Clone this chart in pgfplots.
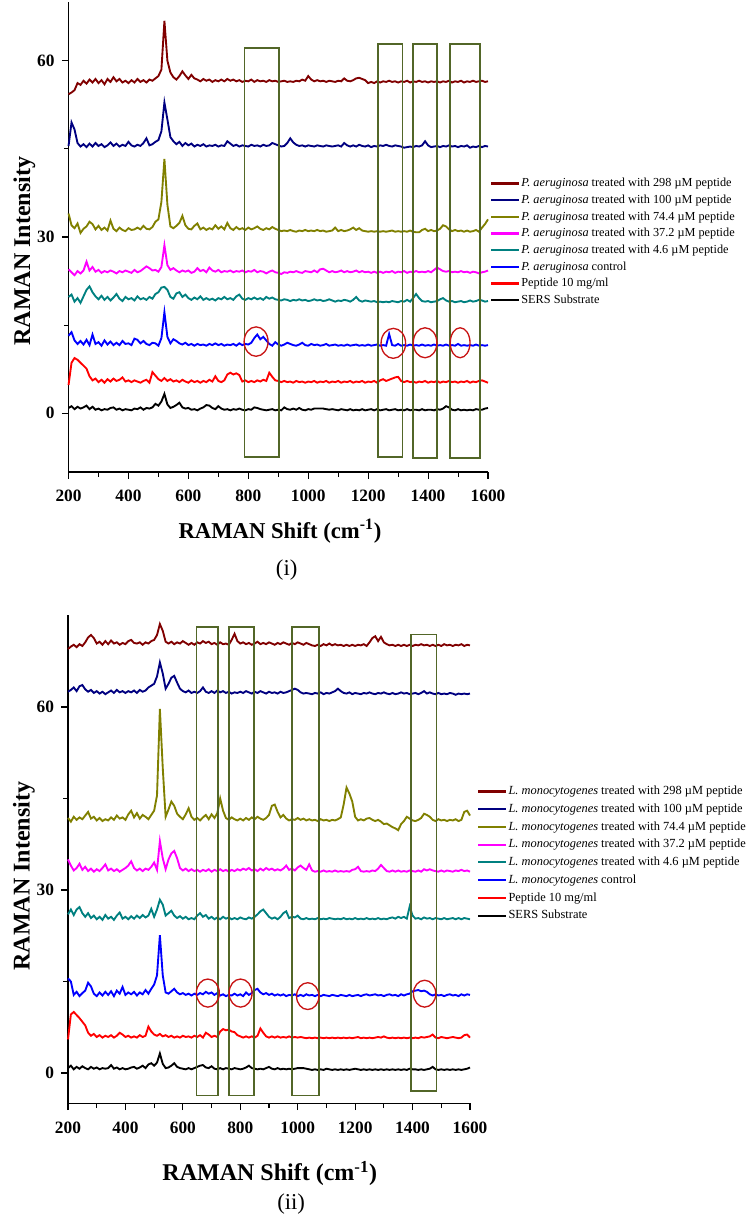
\documentclass[border=0pt]{standalone}
\usepackage{pgfplots}
\usepackage{pgfplotstable}
\pgfplotsset{compat=1.18}
\usepackage{fontspec}
\setmainfont{Liberation Serif}
\definecolor{cA}{RGB}{128,0,0}
\definecolor{cB}{RGB}{0,0,128}
\definecolor{cC}{RGB}{128,128,0}
\definecolor{cD}{RGB}{255,0,255}
\definecolor{cE}{RGB}{0,128,128}
\definecolor{cF}{RGB}{0,0,255}
\definecolor{cG}{RGB}{255,0,0}
\definecolor{cH}{RGB}{0,0,0}
\definecolor{boxc}{RGB}{82,102,40}
\definecolor{circ}{RGB}{200,20,20}

% columns: x, SERS, peptide, control, 4.6, 37.2, 74.4, 100, 298
\pgfplotstableread{
x a b c d e f g h
200 0.9 4.8 13.2 19.8 24.5 34.0 45.5 54.3
210 1.2 8.6 13.8 20.2 24.0 32.0 49.5 54.6
220 0.7 9.4 12.4 19.0 23.5 31.5 48.3 55.0
230 1.1 9.1 11.8 19.6 24.2 32.3 46.0 56.2
240 0.8 8.6 12.3 18.8 23.8 30.7 45.4 55.9
250 1.0 8.1 11.7 19.9 24.3 31.4 45.8 56.6
260 1.3 7.6 12.5 21.0 25.8 31.8 45.3 56.1
270 0.7 6.3 11.6 21.6 24.3 32.6 45.9 56.8
280 1.1 5.6 13.4 20.6 24.9 32.2 45.4 56.3
290 0.6 5.9 11.8 19.9 24.1 31.3 46.0 56.9
300 0.8 5.3 12.1 19.4 24.4 31.9 45.5 56.2
310 0.5 5.7 11.5 20.0 23.9 31.2 45.8 56.7
320 0.7 5.2 12.4 19.3 24.2 31.6 45.3 56.0
330 0.6 5.8 11.7 19.8 24.0 31.1 45.6 56.9
340 0.9 5.4 12.2 19.2 24.3 32.8 46.1 56.4
350 1.0 5.9 11.6 19.7 24.1 31.4 45.5 57.2
360 0.6 5.5 12.0 20.3 23.8 31.0 45.9 56.5
370 0.8 5.7 11.6 19.5 24.2 31.6 45.4 56.9
380 0.5 6.1 12.3 19.1 24.0 31.2 45.7 56.3
390 0.7 5.4 11.8 19.8 24.3 31.0 45.5 56.6
400 0.6 5.6 11.9 19.4 24.1 31.5 46.2 56.2
410 0.5 5.3 11.6 19.6 23.9 31.2 45.6 56.7
420 0.8 5.6 12.7 19.2 24.4 31.3 45.4 56.3
430 0.7 5.4 12.5 19.9 24.0 31.6 45.7 56.9
440 1.0 5.2 11.9 19.4 24.2 31.3 45.5 56.4
450 0.6 5.5 12.3 19.6 24.6 31.9 46.0 56.7
460 0.9 5.7 11.8 19.3 25.0 31.4 46.8 56.3
470 0.8 5.2 11.6 19.8 24.7 31.3 45.6 56.8
480 1.0 7.0 12.0 19.5 24.3 31.7 45.8 56.6
490 1.6 6.4 11.9 20.3 24.4 32.6 46.2 57.0
500 1.3 5.8 11.5 20.6 24.1 33.0 46.5 57.4
510 2.0 5.5 12.8 21.4 24.9 36.0 48.0 58.5
520 3.3 6.0 17.2 21.5 28.6 43.3 52.9 66.8
530 1.5 5.5 13.0 21.0 25.2 35.5 50.0 60.0
540 0.9 5.8 11.9 19.8 24.4 31.8 47.0 58.0
550 1.1 5.4 12.6 19.5 24.7 31.5 46.3 57.2
560 1.4 5.6 12.3 20.4 24.3 31.9 45.8 56.8
570 1.8 5.3 11.9 20.6 24.0 32.4 46.2 57.4
580 1.0 5.7 11.7 19.8 24.3 33.6 45.5 58.2
590 0.8 5.4 12.0 20.2 24.1 32.0 46.0 57.5
600 0.9 5.2 11.6 19.6 24.3 31.4 45.6 56.9
610 0.6 5.6 11.8 19.3 23.9 31.3 45.9 57.6
620 0.7 5.3 11.5 19.7 24.1 31.9 45.4 57.0
630 0.5 5.5 11.8 19.4 24.7 32.3 45.7 56.8
640 0.8 5.2 11.6 19.9 24.2 31.3 45.5 56.5
650 1.0 5.5 11.7 19.3 24.4 31.6 45.8 56.9
660 1.4 5.3 11.5 19.6 24.0 31.2 45.4 56.6
670 1.3 5.7 11.8 19.3 24.8 31.5 45.6 56.8
680 0.9 5.4 11.6 19.5 24.3 31.3 45.5 56.4
690 0.7 6.3 11.9 19.2 24.1 32.0 45.7 56.7
700 1.2 5.5 11.6 19.6 24.4 31.4 45.4 56.5
710 0.8 5.3 11.8 19.4 24.0 31.8 45.6 56.8
720 0.6 5.6 11.5 19.8 24.2 31.3 45.5 56.5
730 0.7 6.6 11.7 19.4 24.1 32.4 46.3 56.9
740 0.5 6.9 11.6 19.6 24.3 31.5 45.9 56.6
750 0.7 6.6 11.8 19.3 24.0 31.2 45.5 56.8
760 0.6 6.8 11.5 19.9 24.2 31.7 45.7 56.5
770 0.8 6.5 11.9 20.2 24.1 31.3 45.4 56.7
780 0.6 5.4 11.6 19.5 24.3 31.5 45.6 56.4
790 0.5 5.6 11.8 19.3 24.0 31.2 45.5 56.6
800 0.7 5.3 11.7 19.6 24.2 31.6 45.4 56.5
810 0.6 5.5 12.0 19.4 24.1 31.3 45.7 56.8
820 1.0 5.3 12.8 19.7 24.4 31.5 45.5 56.4
830 0.9 5.6 13.4 19.4 24.0 31.8 45.6 56.7
840 0.7 5.4 12.6 19.6 24.2 31.4 45.4 56.5
850 0.6 5.7 13.0 19.3 24.1 31.2 45.7 56.6
860 0.5 5.5 12.4 19.8 23.8 31.5 45.5 56.4
870 0.6 6.9 11.8 19.5 24.1 31.3 45.6 56.7
880 0.7 6.2 11.5 19.7 24.3 31.7 46.0 56.5
890 0.5 5.6 12.1 19.4 24.0 31.4 45.8 56.6
900 0.6 5.5 11.7 19.3 23.9 31.2 45.6 56.4
910 0.5 5.3 11.5 19.2 23.7 31.0 45.4 56.5
920 1.0 5.5 11.7 19.4 24.0 31.1 45.5 56.6
930 0.7 5.3 12.0 19.3 23.9 31.0 46.0 56.4
940 0.6 5.4 11.8 19.1 24.1 31.2 46.8 56.5
950 0.8 5.2 11.6 19.3 24.0 31.0 46.1 56.4
960 0.6 5.5 11.5 19.2 24.2 30.9 45.7 56.6
970 0.9 5.3 11.7 19.4 24.0 31.1 45.5 56.5
980 0.6 5.4 12.0 19.2 23.9 31.0 45.6 56.8
990 0.5 5.2 11.6 19.3 24.2 31.2 45.4 56.6
1000 0.7 5.4 11.5 19.1 24.1 31.0 45.6 57.4
1010 0.6 5.3 11.8 19.2 24.0 31.1 45.5 56.8
1020 0.8 5.5 11.6 19.4 24.3 31.0 45.4 56.5
1030 0.8 5.2 11.7 19.2 24.0 31.2 45.6 56.7
1040 0.8 5.4 11.5 19.3 24.5 31.0 45.5 56.5
1050 0.8 5.3 11.6 19.1 24.6 31.1 45.4 56.6
1060 0.7 5.5 11.8 19.2 24.3 30.9 45.6 56.4
1070 0.6 5.2 11.5 19.4 24.0 31.0 45.5 56.6
1080 0.7 5.4 11.6 19.2 24.2 31.1 45.4 56.5
1090 0.6 5.3 11.7 19.0 24.0 31.6 45.5 56.4
1100 0.5 5.5 11.5 19.2 24.1 31.0 45.6 56.6
1110 0.7 5.2 11.6 19.1 24.3 31.2 45.4 56.5
1120 0.6 5.4 11.5 19.3 24.0 31.0 46.0 57.0
1130 0.5 5.3 11.7 19.2 24.2 31.1 45.6 56.6
1140 0.7 5.5 11.5 19.0 24.0 31.3 45.4 56.5
1150 0.5 5.2 11.6 19.3 24.1 31.6 45.6 56.7
1160 0.6 5.4 11.7 19.8 24.3 31.2 45.4 57.0
1170 0.5 5.3 11.5 19.2 24.0 31.5 45.7 57.1
1180 0.7 5.5 11.6 19.0 24.2 31.1 45.5 56.9
1190 0.5 5.2 11.5 19.2 24.0 31.0 45.4 56.7
1200 0.6 5.4 11.7 19.1 24.1 30.9 45.6 56.2
1210 0.7 5.3 11.5 19.0 23.9 31.0 45.3 56.4
1220 0.5 5.5 11.6 19.1 24.1 30.9 45.5 56.2
1230 0.7 5.2 11.7 18.9 23.9 31.0 45.4 56.5
1240 0.5 5.6 11.5 19.0 24.1 30.9 45.6 56.3
1250 0.6 5.8 11.6 18.9 23.9 31.0 45.5 56.5
1260 0.7 5.5 11.5 19.0 24.1 30.9 45.7 56.4
1270 0.5 5.7 13.5 18.9 24.0 31.0 45.5 56.6
1280 0.6 5.9 11.6 19.1 24.2 31.1 45.4 56.4
1290 0.7 6.1 11.5 19.0 23.9 30.9 45.6 56.5
1300 0.5 6.2 11.8 18.9 24.1 31.0 45.5 56.3
1310 0.6 5.5 11.5 19.1 24.0 30.9 45.4 56.5
1320 0.5 5.3 11.6 19.0 24.2 31.0 45.2 56.4
1330 0.7 5.5 11.5 19.3 23.9 30.9 45.3 56.6
1340 0.5 5.3 11.7 19.0 24.1 31.1 45.4 56.3
1350 0.6 5.4 11.5 19.6 24.0 30.9 45.3 56.5
1360 0.6 5.2 11.6 20.3 24.2 30.8 45.5 56.4
1370 0.5 5.4 11.5 19.6 24.0 30.8 45.4 56.6
1380 0.7 5.3 11.7 19.1 24.1 31.2 45.6 56.4
1390 0.5 5.5 11.5 19.0 24.0 31.4 46.3 56.5
1400 0.6 5.2 11.6 19.1 24.2 31.0 45.6 56.3
1410 0.6 5.4 11.5 18.9 24.0 31.2 45.3 56.5
1420 0.5 5.3 11.7 19.0 24.4 31.0 45.4 56.4
1430 0.7 5.5 11.5 19.1 24.8 31.1 45.5 56.5
1440 0.6 5.2 11.6 19.4 24.5 31.4 45.3 56.3
1450 0.8 5.4 11.5 19.6 24.2 32.0 45.5 56.5
1460 1.2 5.3 11.7 19.2 24.1 31.8 45.4 56.4
1470 1.0 5.5 11.5 19.0 24.2 31.3 45.6 56.6
1480 0.6 5.3 11.6 19.1 24.0 31.0 45.4 56.3
1490 0.5 5.4 11.5 18.9 24.1 31.2 45.5 56.5
1500 0.7 5.2 11.8 19.0 24.0 31.0 45.3 56.4
1510 0.5 5.4 11.5 19.1 24.2 31.1 45.5 56.6
1520 0.6 5.3 11.6 18.9 24.0 30.9 45.4 56.3
1530 0.5 5.5 11.5 19.0 24.1 31.1 45.6 56.5
1540 0.6 5.2 11.6 19.2 23.9 30.9 45.2 56.4
1550 0.5 5.4 11.5 19.0 24.1 31.0 45.4 56.6
1560 0.7 5.3 11.7 19.1 24.0 31.2 45.3 56.4
1570 0.6 5.5 11.5 19.3 23.8 30.9 45.5 56.5
1580 0.6 5.6 11.6 19.2 24.0 31.6 45.3 56.6
1590 0.8 5.4 11.5 19.0 24.1 32.2 45.5 56.4
1600 0.9 5.2 11.6 19.1 24.3 33.0 45.4 56.5
}\toptable

\pgfplotstableread{
x a b c d e f g h
200 0.8 5.5 15.5 26.0 35.0 41.8 62.5 69.5
210 1.2 9.6 15.0 26.8 34.0 41.2 62.8 69.9
220 0.6 10.0 12.8 25.9 33.2 42.0 63.2 70.2
230 1.0 9.5 13.3 26.8 33.6 41.5 62.6 69.8
240 0.7 9.0 12.6 27.2 34.3 41.9 63.4 70.3
250 1.1 8.4 13.1 26.2 33.3 41.6 63.6 70.0
260 0.8 7.8 13.5 25.6 33.8 42.2 62.9 70.6
270 0.6 6.6 14.8 26.2 33.1 42.8 62.5 71.4
280 1.0 6.1 14.2 25.4 33.5 41.7 62.8 71.8
290 0.7 6.4 13.0 25.8 33.0 42.0 62.3 71.3
300 0.9 5.9 12.6 25.2 33.4 41.4 62.6 70.4
310 0.6 6.2 13.2 25.6 33.1 41.8 62.2 70.7
320 0.8 5.8 12.7 25.1 33.6 41.3 62.5 70.2
330 0.7 6.1 13.3 25.9 34.2 41.6 62.1 70.8
340 0.8 5.9 12.8 25.3 33.2 41.4 62.4 70.3
350 1.3 6.2 13.4 25.6 33.5 41.9 62.7 70.9
360 0.7 5.8 12.6 25.1 33.1 41.5 62.3 70.4
370 0.9 6.1 13.5 25.8 33.4 42.2 62.8 70.6
380 0.6 6.6 13.0 26.3 33.0 41.7 62.4 70.2
390 0.8 6.3 14.1 25.3 33.3 41.9 62.6 70.5
400 0.6 5.9 12.8 25.6 33.6 41.5 62.3 70.3
410 0.7 6.1 13.2 25.2 34.0 42.4 62.6 70.8
420 0.9 5.8 12.9 25.7 34.7 43.0 62.4 71.0
430 1.0 6.0 13.3 25.3 33.6 41.9 62.7 70.5
440 0.7 5.8 12.7 25.8 33.2 42.6 62.3 70.4
450 0.9 6.2 13.2 25.4 33.5 41.7 62.8 70.6
460 1.2 5.9 12.9 25.9 33.1 42.3 62.5 70.2
470 0.8 6.1 13.6 25.5 33.5 42.0 62.7 70.6
480 1.4 7.6 13.0 25.8 33.3 41.6 63.2 70.4
490 1.6 6.8 13.8 26.9 33.8 42.3 63.5 70.8
500 1.2 6.3 14.5 25.6 34.5 43.0 63.8 71.0
510 1.7 6.1 16.0 26.8 33.3 45.5 65.0 71.8
520 3.2 6.4 22.6 28.4 38.0 59.7 67.3 73.6
530 1.5 6.0 16.0 27.6 35.2 50.0 65.5 72.5
540 0.8 6.2 13.2 25.8 33.4 42.0 63.0 70.7
550 0.9 5.9 13.0 26.2 35.0 43.2 63.8 70.4
560 1.2 6.1 13.4 26.6 36.0 44.5 64.8 70.7
570 1.6 5.8 13.8 25.8 36.4 43.8 65.1 70.3
580 1.0 6.0 13.2 25.4 35.2 42.5 64.0 70.6
590 0.8 5.8 12.9 25.7 33.6 42.0 63.0 70.4
600 0.7 6.1 13.1 25.3 33.2 41.6 62.6 70.8
610 0.6 5.9 12.8 25.6 33.5 42.4 62.4 70.5
620 0.8 6.0 13.0 25.2 33.1 43.4 62.7 70.2
630 0.6 5.8 12.7 25.4 33.4 42.0 62.3 70.5
640 0.8 6.1 13.0 25.2 33.1 41.5 62.5 70.2
650 1.0 5.9 12.8 25.8 33.3 41.8 62.3 70.6
660 1.2 6.2 13.1 26.2 33.0 41.4 62.6 70.4
670 1.3 5.8 12.9 25.6 33.3 41.9 63.2 70.8
680 0.9 6.6 13.3 25.9 33.1 42.3 62.5 70.5
690 0.8 6.3 13.0 25.3 33.4 41.6 62.3 70.7
700 1.1 5.9 13.2 25.6 33.0 42.4 62.6 70.3
710 0.7 6.1 12.8 25.2 33.3 41.8 62.3 70.5
720 0.6 5.9 13.1 25.5 33.1 42.6 62.7 70.2
730 0.8 6.8 12.7 25.2 33.4 45.0 62.4 70.6
740 0.6 7.2 12.9 25.6 33.1 43.0 62.6 70.3
750 0.8 7.0 12.6 25.3 33.3 41.8 62.3 70.4
760 0.7 7.1 12.8 25.5 33.0 41.5 62.5 70.2
770 0.6 6.8 12.7 25.2 33.3 41.9 62.2 71.0
780 0.8 6.7 13.0 25.4 33.1 41.6 62.4 72.0
790 0.7 6.2 12.7 25.2 33.4 41.4 62.3 70.8
800 0.6 6.0 12.9 25.5 33.2 41.7 62.5 70.4
810 0.7 5.8 12.6 25.3 33.5 41.4 62.3 70.6
820 0.9 6.0 13.2 25.2 33.3 41.8 62.6 70.3
830 1.2 5.8 12.8 25.5 33.6 41.5 62.4 70.5
840 0.8 6.0 13.1 25.3 33.2 41.9 62.2 70.2
850 0.7 5.8 13.6 25.6 33.4 41.6 62.5 70.4
860 0.6 6.1 13.8 26.0 33.1 42.0 62.3 70.7
870 0.7 7.3 13.2 26.5 33.5 41.7 62.6 70.3
880 0.6 6.6 12.9 26.8 33.2 41.5 62.4 70.5
890 0.8 6.0 13.1 26.2 33.6 41.8 62.2 70.3
900 1.0 5.8 12.8 25.6 33.3 42.3 62.5 70.6
910 0.7 6.0 13.0 25.3 33.5 43.8 62.3 70.4
920 0.6 5.8 12.7 25.5 33.2 44.0 62.4 70.2
930 0.8 6.0 12.9 25.2 33.4 42.8 62.2 70.5
940 0.6 5.8 12.7 25.6 33.2 41.9 62.5 70.3
950 0.7 5.9 12.9 26.2 33.5 42.3 62.3 70.6
960 0.6 5.8 12.6 26.5 34.0 41.7 62.4 70.4
970 0.7 6.0 12.8 25.4 33.3 41.4 62.6 70.2
980 0.6 5.8 12.7 25.6 33.5 41.6 62.8 70.5
990 0.7 5.9 12.9 25.5 33.2 41.5 63.0 70.3
1000 0.8 5.8 12.6 25.8 33.7 41.8 62.8 70.6
1010 0.8 5.9 12.8 25.3 34.0 41.5 62.4 70.4
1020 0.8 5.8 12.6 25.2 33.6 41.7 62.2 70.2
1030 0.7 5.7 12.9 25.4 33.3 41.4 62.3 70.5
1040 0.6 5.8 12.7 25.2 34.2 41.6 62.2 70.3
1050 0.5 5.7 12.8 25.3 33.2 41.4 62.1 70.1
1060 0.6 5.8 12.6 25.2 33.0 41.5 62.3 70.0
1070 0.5 5.7 12.8 25.4 33.1 41.3 62.2 70.2
1080 0.6 5.8 12.6 25.2 33.0 41.6 62.4 70.0
1090 0.5 5.7 12.8 25.3 33.2 41.4 62.1 70.3
1100 0.7 5.8 12.7 25.2 33.0 41.5 62.3 70.1
1110 0.6 5.7 12.6 25.4 33.1 41.3 62.2 70.4
1120 0.5 5.8 12.8 25.3 33.0 41.5 62.4 70.1
1130 0.6 5.7 12.7 25.2 33.2 41.4 62.6 70.3
1140 0.5 5.8 12.6 25.3 33.0 41.6 63.0 70.1
1150 0.6 5.7 12.8 25.2 33.1 41.9 62.6 70.2
1160 0.5 5.8 12.7 25.4 33.0 44.0 62.3 70.0
1170 0.6 5.7 12.6 25.2 33.1 46.8 62.2 70.2
1180 0.5 5.8 12.8 25.3 33.0 45.8 62.4 70.0
1190 0.6 5.7 12.6 25.2 33.3 44.5 62.1 70.2
1200 0.7 5.8 12.7 25.4 33.4 42.0 62.3 70.0
1210 0.6 5.9 12.8 25.2 33.8 41.4 62.2 70.2
1220 0.5 5.7 12.6 25.3 33.1 41.6 62.1 70.1
1230 0.6 5.8 12.8 25.2 33.0 41.4 62.3 70.3
1240 0.5 5.7 12.9 25.4 33.1 41.7 62.2 70.0
1250 0.6 5.8 12.7 25.2 33.0 41.8 62.4 70.6
1260 0.5 5.7 12.8 25.3 33.2 41.5 62.2 71.3
1270 0.6 5.8 12.9 25.2 33.1 41.3 62.1 71.6
1280 0.5 5.9 12.7 25.4 33.5 41.5 62.3 70.8
1290 0.6 5.8 12.8 25.2 34.1 41.2 62.2 71.5
1300 0.5 6.0 12.6 25.3 33.6 40.8 62.4 70.6
1310 0.6 5.8 12.8 25.2 33.1 40.9 62.2 70.3
1320 0.5 5.7 12.9 25.4 33.0 40.6 62.1 70.1
1330 0.6 5.8 12.7 25.5 33.2 40.3 62.3 70.2
1340 0.5 5.7 12.8 25.3 33.0 40.1 62.1 70.0
1350 0.6 5.8 12.6 25.6 33.2 39.8 62.2 70.2
1360 0.5 5.7 12.9 25.4 33.0 40.8 62.4 70.0
1370 0.6 5.8 12.7 25.6 33.1 41.3 62.2 70.2
1380 0.5 5.7 12.9 25.3 33.0 42.0 62.3 70.0
1390 0.7 5.8 13.0 27.3 33.2 41.7 62.1 70.2
1400 0.6 5.7 13.4 25.8 33.1 41.4 62.2 70.0
1410 0.6 5.8 13.5 25.3 33.0 41.3 62.3 70.2
1420 0.5 5.7 13.6 25.4 33.2 41.5 62.1 70.1
1430 0.6 5.9 13.4 25.2 33.0 41.8 62.3 70.3
1440 0.5 5.8 13.5 25.5 33.4 42.5 62.6 70.1
1450 0.6 5.9 13.3 25.3 33.2 42.3 62.2 70.2
1460 0.7 6.0 12.9 25.4 33.4 42.0 62.4 70.0
1470 1.0 6.3 12.7 25.2 33.2 41.5 62.2 70.2
1480 0.6 5.8 12.9 25.4 33.1 41.3 62.1 70.0
1490 0.5 5.7 12.7 25.3 33.0 41.6 62.3 70.2
1500 0.6 5.9 12.8 25.2 33.2 41.4 62.1 70.0
1510 0.5 5.8 12.6 25.4 33.0 41.5 62.2 70.3
1520 0.6 5.7 12.8 25.2 33.2 41.3 62.1 70.1
1530 0.5 5.8 12.9 25.3 33.1 41.5 62.3 70.2
1540 0.6 5.9 12.7 25.4 33.0 41.4 62.2 70.0
1550 0.5 5.8 12.8 25.2 33.2 41.6 62.0 70.2
1560 0.6 5.7 12.6 25.4 33.1 41.3 62.2 70.1
1570 0.5 5.8 12.9 25.2 33.3 41.5 62.1 70.3
1580 0.6 6.2 12.7 25.4 33.1 42.8 62.2 70.0
1590 0.7 6.3 12.9 25.3 33.2 43.0 62.1 70.2
1600 0.9 5.8 12.8 25.2 33.0 42.2 62.2 70.1
}\bottable

\pgfplotsset{
  ramanstyle/.style={
    scale only axis,
    clip=false,
    xmin=200, xmax=1600,
    xtick={200,400,...,1600},
    minor x tick num=1,
    ytick={0,30,60},
    minor ytick={15,45},
    axis x line*=bottom,
    axis y line*=left,
    axis line style={-, line width=0.9pt},
    tick align=outside,
    major tick length=5pt,
    minor tick length=3.5pt,
    every tick/.style={black, line width=0.8pt},
    /pgf/number format/assume math mode=true,
    /pgf/number format/1000 sep={},
    tick label style={font=\bfseries\fontsize{13}{15}\selectfont},
    xticklabel style={yshift=-5pt},
    yticklabel style={xshift=-2pt},
    label style={font=\bfseries\fontsize{18}{20}\selectfont},
    ylabel={RAMAN Intensity},
    legend cell align=left,
    legend image code/.code={\draw[##1, line width=1.6pt] (0pt,0pt) -- (21pt,0pt);},
    every axis plot/.append style={line width=1.4pt, mark=none},
  }
}

\begin{document}
\begin{tikzpicture}
\useasboundingbox (0pt,0pt) rectangle (562.5pt,-915.75pt);

% ---------- panel (i) ----------
\begin{axis}[ramanstyle,
  at={(51.4pt,-354pt)}, anchor=south west,
  width=314.6pt, height=352.5pt,
  ymin=-10, ymax=70,
  xlabel={RAMAN Shift (cm\textsuperscript{-1})},
  xlabel style={at={(axis description cs:0.504,-0.126)}, anchor=center, font=\bfseries\fontsize{17}{19}\selectfont},
  ylabel style={at={(axis description cs:-0.105,0.47)}, anchor=center},
  legend style={at={(axis description cs:1.004,0.630)}, anchor=north west, draw=none, fill=none,
    font=\fontsize{9.2}{10}\selectfont, row sep=1.5pt, inner sep=0pt,
    nodes={inner sep=1pt, text height=7pt, text depth=2pt}},
]
\addplot[cA] table[x=x,y=h] {\toptable}; \addlegendentry{\textit{P. aeruginosa} treated with 298 µM peptide}
\addplot[cB] table[x=x,y=g] {\toptable}; \addlegendentry{\textit{P. aeruginosa} treated with 100 µM peptide}
\addplot[cC] table[x=x,y=f] {\toptable}; \addlegendentry{\textit{P. aeruginosa} treated with 74.4 µM peptide}
\addplot[cD] table[x=x,y=e] {\toptable}; \addlegendentry{\textit{P. aeruginosa} treated with 37.2 µM peptide}
\addplot[cE] table[x=x,y=d] {\toptable}; \addlegendentry{\textit{P. aeruginosa} treated with 4.6 µM peptide}
\addplot[cF] table[x=x,y=c] {\toptable}; \addlegendentry{\textit{P. aeruginosa} control}
\addplot[cG] table[x=x,y=b] {\toptable}; \addlegendentry{Peptide 10 mg/ml}
\addplot[cH] table[x=x,y=a] {\toptable}; \addlegendentry{SERS Substrate}
\draw[boxc, line width=1.2pt] (axis cs:787,-7.4) rectangle (axis cs:903,62.2);
\draw[boxc, line width=1.2pt] (axis cs:1232,-7.4) rectangle (axis cs:1315,62.9);
\draw[boxc, line width=1.2pt] (axis cs:1350,-7.6) rectangle (axis cs:1429,62.9);
\draw[boxc, line width=1.2pt] (axis cs:1473,-7.6) rectangle (axis cs:1573,62.9);
\draw[circ, line width=1pt] (axis cs:826,12.2) ellipse [x radius=40, y radius=2.5];
\draw[circ, line width=1pt] (axis cs:1284,11.9) ellipse [x radius=41, y radius=2.55];
\draw[circ, line width=1pt] (axis cs:1390,12.0) ellipse [x radius=39.5, y radius=2.55];
\draw[circ, line width=1pt] (axis cs:1507,12.0) ellipse [x radius=33, y radius=2.55];
\node[font=\fontsize{17}{19}\selectfont] at (axis description cs:0.52,-0.209) {(i)};
\end{axis}

% ---------- panel (ii) ----------
\begin{axis}[ramanstyle,
  at={(51pt,-827.6pt)}, anchor=south west,
  width=301.5pt, height=366pt,
  ymin=-5, ymax=75,
  xlabel={RAMAN Shift (cm\textsuperscript{-1})},
  xlabel style={at={(axis description cs:0.502,-0.143)}, anchor=center},
  ylabel style={at={(axis description cs:-0.11,0.466)}, anchor=center},
  legend style={at={(axis description cs:1.017,0.655)}, anchor=north west, draw=none, fill=none,
    font=\fontsize{9.3}{10}\selectfont, row sep=2.3pt, inner sep=0pt,
    nodes={inner sep=1pt, text height=7pt, text depth=2pt}},
]
\addplot[cA] table[x=x,y=h] {\bottable}; \addlegendentry{\textit{L. monocytogenes} treated with 298 µM peptide}
\addplot[cB] table[x=x,y=g] {\bottable}; \addlegendentry{\textit{L. monocytogenes} treated with 100 µM peptide}
\addplot[cC] table[x=x,y=f] {\bottable}; \addlegendentry{\textit{L. monocytogenes} treated with 74.4 µM peptide}
\addplot[cD] table[x=x,y=e] {\bottable}; \addlegendentry{\textit{L. monocytogenes} treated with 37.2 µM peptide}
\addplot[cE] table[x=x,y=d] {\bottable}; \addlegendentry{\textit{L. monocytogenes} treated with 4.6 µM peptide}
\addplot[cF] table[x=x,y=c] {\bottable}; \addlegendentry{\textit{L. monocytogenes} control}
\addplot[cG] table[x=x,y=b] {\bottable}; \addlegendentry{Peptide 10 mg/ml}
\addplot[cH] table[x=x,y=a] {\bottable}; \addlegendentry{SERS Substrate}
\draw[boxc, line width=1.2pt] (axis cs:647,-3.66) rectangle (axis cs:723,73.1);
\draw[boxc, line width=1.2pt] (axis cs:760,-3.66) rectangle (axis cs:848,73.1);
\draw[boxc, line width=1.2pt] (axis cs:980,-3.66) rectangle (axis cs:1075,73.1);
\draw[boxc, line width=1.2pt] (axis cs:1394,-3.0) rectangle (axis cs:1484,71.9);
\draw[circ, line width=1pt] (axis cs:687,13.1) ellipse [x radius=40, y radius=2.3];
\draw[circ, line width=1pt] (axis cs:801,13.1) ellipse [x radius=40, y radius=2.3];
\draw[circ, line width=1pt] (axis cs:1035,12.6) ellipse [x radius=39, y radius=2.2];
\draw[circ, line width=1pt] (axis cs:1442,13.0) ellipse [x radius=39, y radius=2.2];
\node[font=\fontsize{17}{19}\selectfont] at (axis description cs:0.555,-0.207) {(ii)};
\end{axis}
\end{tikzpicture}
\end{document}
